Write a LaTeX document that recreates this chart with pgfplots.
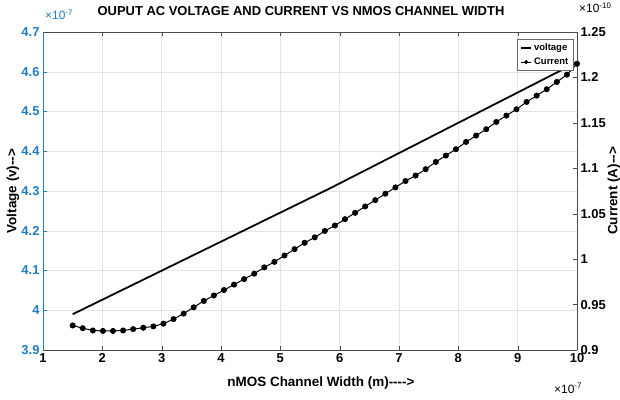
\documentclass[border=0pt]{standalone}
\usepackage{pgfplots}
\pgfplotsset{compat=1.18}
\usepackage{fontspec}
\setmainfont{Liberation Sans}[Ligatures=TeXOff]
\definecolor{mblue}{RGB}{30,125,195}
\definecolor{gridc}{RGB}{228,228,228}
\begin{document}
\begin{tikzpicture}
\begin{axis}[name=L, scale only axis, width=534bp, height=318bp, clip=false,
  xmin=1, xmax=10, ymin=3.9, ymax=4.7,
  axis y line*=left, axis x line*=box,
  y axis line style={mblue, line width=0.8pt},
  x axis line style={black!70, line width=0.6pt},
  xtick={1,2,3,4,5,6,7,8,9,10},
  ytick={3.9,4.0,4.1,4.2,4.3,4.4,4.5,4.6,4.7},
  yticklabels={3.9,4,4.1,4.2,4.3,4.4,4.5,4.6,4.7},
  tick align=inside, major tick length=4bp,
  xtick pos=both,
  grid=major, major grid style={gridc, line width=0.5pt},
  /pgf/number format/assume math mode=true,
  tick label style={font=\bfseries\fontsize{13}{14}\selectfont},
  y tick label style={mblue},
  ytick style={mblue},
  xtick style={black!70},
  xlabel={nMOS Channel Width (m)---->},
  xlabel style={at={(rel axis cs:0.5,0)}, anchor=center, yshift=-33bp, xshift=11bp, font=\bfseries\fontsize{13.5}{14}\selectfont},
  ylabel={Voltage (v)-->},
  every axis y label/.style={at={(rel axis cs:0,0.5)}, rotate=90, anchor=center, yshift=30bp, font=\bfseries\fontsize{13.5}{14}\selectfont},
  title={OUPUT AC VOLTAGE AND CURRENT VS NMOS CHANNEL WIDTH},
  title style={at={(rel axis cs:0.5,1)}, anchor=center, yshift=15bp, xshift=-9bp, font=\bfseries\fontsize{13}{14}\selectfont},
]
\addplot[black, line width=1.8pt] coordinates {(1.5,3.99) (5.84,4.307) (10,4.624)};
\node[mblue, anchor=base west, font=\fontsize{12}{13}\selectfont, inner sep=0pt] at (rel axis cs:0,1) [xshift=2bp, yshift=12bp] {×10\textsuperscript{-7}};
\node[black, anchor=base west, font=\fontsize{12}{13}\selectfont, inner sep=0pt] at (rel axis cs:1,0) [xshift=-23bp, yshift=-43bp] {×10\textsuperscript{-7}};
\end{axis}
\begin{axis}[scale only axis, width=534bp, height=318bp, clip=false,
  xmin=1, xmax=10, ymin=0.9, ymax=1.25,
  axis y line*=right, axis x line=none,
  y axis line style={black!70, line width=0.6pt},
  ytick={0.9,0.95,1,1.05,1.1,1.15,1.2,1.25},
  yticklabels={0.9,0.95,1,1.05,1.1,1.15,1.2,1.25},
  tick align=inside, major tick length=4bp,
  ytick style={black!70},
  /pgf/number format/assume math mode=true,
  tick label style={font=\bfseries\fontsize{13}{14}\selectfont},
  ylabel={Current (A)-->},
  every axis y label/.style={at={(rel axis cs:1,0.5)}, rotate=90, anchor=center, yshift=-37bp, font=\bfseries\fontsize{13.5}{14}\selectfont},
  legend style={at={(rel axis cs:1,1)}, anchor=north east, xshift=-4bp, yshift=-7bp,
    font=\bfseries\fontsize{9.5}{11}\selectfont, draw=black!60, fill=white, inner sep=2.5pt,
    row sep=2pt},
  legend cell align=left,
  legend image post style={scale=0.6},
]
\addlegendimage{black, line width=1.8pt}
\addlegendentry{voltage}
\addplot[black, line width=1pt, mark=*, mark size=2.5pt, mark options={fill=black}] coordinates {
(1.50,0.927) (1.67,0.924) (1.84,0.9215) (2.01,0.921) (2.18,0.921) (2.35,0.9215)
(2.52,0.923) (2.69,0.9245) (2.86,0.926) (3.03,0.929) (3.20,0.934) (3.37,0.940)
(3.54,0.947) (3.71,0.954) (3.88,0.960) (4.05,0.966) (4.22,0.972) (4.39,0.978)
(4.56,0.984) (4.73,0.991) (4.90,0.997) (5.07,1.004) (5.24,1.011) (5.41,1.018)
(5.58,1.024) (5.75,1.031) (5.92,1.037) (6.09,1.044) (6.26,1.051) (6.43,1.058)
(6.60,1.065) (6.77,1.072) (6.94,1.079) (7.11,1.086) (7.28,1.092) (7.45,1.099)
(7.62,1.107) (7.79,1.114) (7.96,1.121) (8.13,1.129) (8.30,1.136) (8.47,1.143)
(8.64,1.151) (8.81,1.158) (8.98,1.165) (9.15,1.173) (9.32,1.180) (9.49,1.187)
(9.66,1.195) (9.83,1.203) (10.00,1.215)};
\addlegendentry{Current}
\node[black, anchor=base west, font=\fontsize{12}{13}\selectfont, inner sep=0pt] at (rel axis cs:1,1) [xshift=2bp, yshift=19bp] {×10\textsuperscript{-10}};
\end{axis}
\pgfresetboundingbox
\path ([xshift=-43bp,yshift=-49bp]L.south west) rectangle ([xshift=43bp,yshift=32bp]L.north east);
\end{tikzpicture}
\end{document}
